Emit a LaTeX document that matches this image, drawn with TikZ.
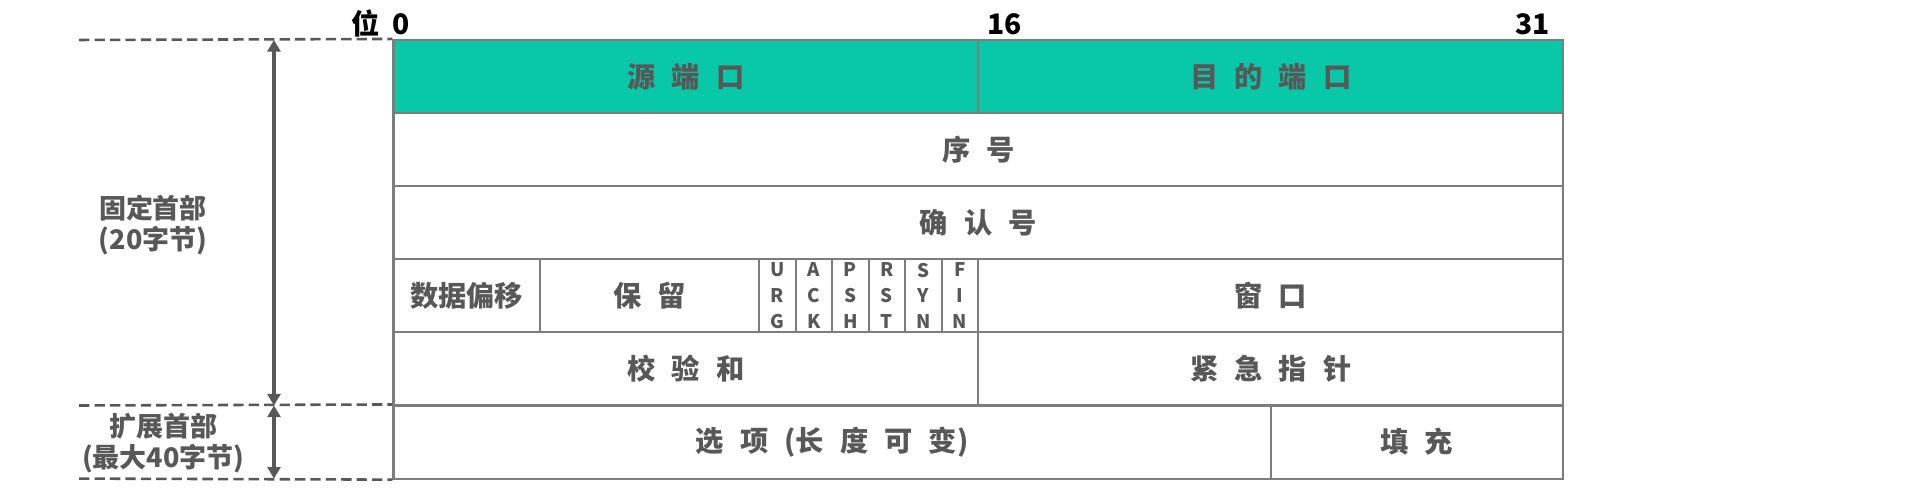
\documentclass[tikz,border=0pt]{standalone}
\usepackage{fontspec}
\setmainfont{Noto Sans CJK SC}
\usetikzlibrary{arrows.meta}
\definecolor{hdrgreen}{RGB}{8,200,168}
\definecolor{linegray}{RGB}{125,125,125}
\definecolor{txtgray}{RGB}{88,88,88}
\newcommand{\ks}{\hspace{0.57em}}
\begin{document}
\begin{tikzpicture}[x=1cm,y=1cm,
  fieldbox/.style={draw=linegray,line width=0.8pt,minimum height=1cm,inner sep=0pt,text=txtgray,font=\fontsize{11}{13}\selectfont\bfseries},
  flagbox/.style={fieldbox,minimum width=0.5cm,align=center,font=\fontsize{7.3}{10.1}\selectfont\bfseries},
  sidelabel/.style={align=center,inner sep=0pt,text=txtgray,font=\fontsize{10.5}{12}\selectfont\bfseries},
  bitnum/.style={inner sep=0pt,text=black,font=\fontsize{11}{13}\selectfont\bfseries},
  guideline/.style={draw=txtgray,line width=1pt,dash pattern=on 4pt off 2pt},
  sizearrow/.style={<->,draw=txtgray,line width=1.3pt},
  >={Triangle[width=5pt,length=4.5pt]}]
\useasboundingbox (-5.383,-6.293) rectangle (20.745,0.547);
% header fields, one row = 32 bits
\node[fieldbox,fill=hdrgreen,minimum width=8cm] (src) at (4,-0.5) {源\ks 端\ks 口};
\node[fieldbox,fill=hdrgreen,minimum width=8cm] (dst) at (12,-0.5) {目\ks 的\ks 端\ks 口};
\node[fieldbox,minimum width=16cm] (seq) at (8,-1.5) {序\ks 号};
\node[fieldbox,minimum width=16cm] (ack) at (8,-2.5) {确\ks 认\ks 号};
\node[fieldbox,minimum width=2cm] (off) at (1,-3.5) {数据偏移};
\node[fieldbox,minimum width=3cm] (rsv) at (3.5,-3.5) {保\ks 留};
\node[flagbox] (urg) at (5.25,-3.5) {U\\R\\G};
\node[flagbox] (ackf) at (5.75,-3.5) {A\\C\\K};
\node[flagbox] (psh) at (6.25,-3.5) {P\\S\\H};
\node[flagbox] (rst) at (6.75,-3.5) {R\\S\\T};
\node[flagbox] (syn) at (7.25,-3.5) {S\\Y\\N};
\node[flagbox] (fin) at (7.75,-3.5) {F\\I\\N};
\node[fieldbox,minimum width=8cm] (win) at (12,-3.5) {窗\ks 口};
\node[fieldbox,minimum width=8cm] (chk) at (4,-4.5) {校\ks 验\ks 和};
\node[fieldbox,minimum width=8cm] (urp) at (12,-4.5) {紧\ks 急\ks 指\ks 针};
\node[fieldbox,minimum width=12cm] (opt) at (6,-5.5) {选\ks 项\ks (长\ks 度\ks 可\ks 变)};
\node[fieldbox,minimum width=4cm] (pad) at (14,-5.5) {填\ks 充};
% bit numbers
\node[bitnum,anchor=base east] (b0) at (0.23,0.07) {位\hspace{0.45em}0};
\node[bitnum,anchor=base west] (b16) at (8.12,0.07) {16};
\node[bitnum,anchor=base east] (b31) at (15.83,0.07) {31};
% header size on the left
\node[sidelabel] (fixed) at (-3.29,-2.53) {固定首部\\(20字节)};
\node[sidelabel] (ext) at (-3.15,-5.51) {扩展首部\\(最大40字节)};
\coordinate (gtop) at (-4.3,0);
\coordinate (gmid) at (-4.3,-5);
\coordinate (gbot) at (-4.3,-6);
\coordinate (atop) at (-1.635,0);
\coordinate (amid) at (-1.635,-5);
\coordinate (abot) at (-1.635,-6);
\draw[guideline] (gtop) -- (src.north west);
\draw[guideline] (gmid) -- (opt.north west);
\draw[guideline] (gbot) -- (opt.south west);
\draw[sizearrow] (atop) -- (amid);
\draw[sizearrow] (amid) -- (abot);
\end{tikzpicture}
\end{document}
